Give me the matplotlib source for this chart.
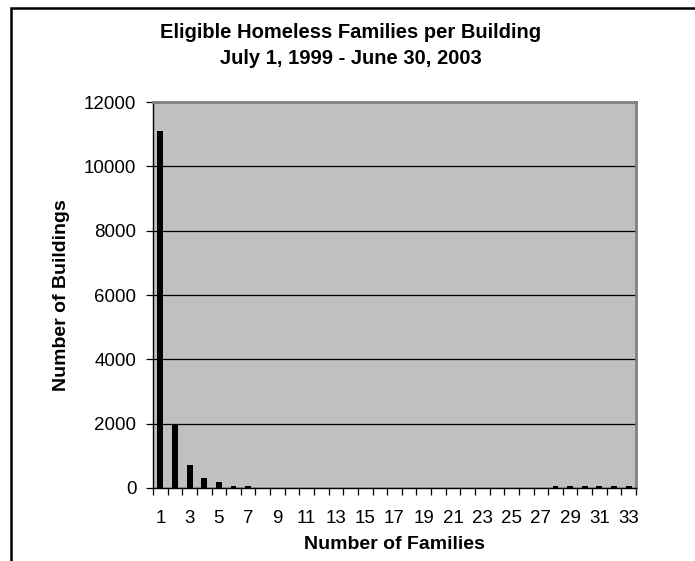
import matplotlib.pyplot as plt
from matplotlib.patches import Rectangle
from matplotlib.ticker import FixedLocator

plt.rcParams['font.family'] = ['Liberation Sans', 'DejaVu Sans']

# buildings by number of eligible families
families = list(range(1, 34))
buildings = [11100, 1970, 710, 300, 180, 70, 60,
             0, 0, 0, 0, 0, 0, 0, 0, 0, 0, 0, 0, 0, 0, 0, 0, 0, 0, 0, 0,
             60, 60, 60, 60, 60, 60]
y_ticks = [0, 2000, 4000, 6000, 8000, 10000, 12000]

W, H = 695, 561
fig = plt.figure(figsize=(W / 100, H / 100), dpi=100)

# chart border (runs off the right and bottom edges)
fig.patches.append(Rectangle((11 / W, -0.2), 1.2, 1.2 - 7.5 / H,
                             transform=fig.transFigure, fill=False,
                             edgecolor='black', linewidth=1.8))

left, right, top, bottom = 153, 636, 102, 488
ax = fig.add_axes([left / W, 1 - bottom / H, (right - left) / W, (bottom - top) / H])
ax.set_facecolor('#c0c0c0')

ax.bar(families, buildings, width=0.4, color='black', zorder=3)

ax.set_xlim(0.5, 33.5)
ax.set_ylim(0, 12000)
ax.set_yticks(y_ticks)
ax.set_yticklabels([str(v) for v in y_ticks], fontsize=13.5)
ax.yaxis.grid(True, color='black', linewidth=0.9, zorder=1)
ax.set_axisbelow(True)

odd = [f for f in families if f % 2 == 1]
ax.set_xticks(odd)
ax.set_xticklabels([str(f) for f in odd], fontsize=13.5)
ax.xaxis.set_minor_locator(FixedLocator([f + 0.5 for f in range(0, 34)]))
ax.tick_params(axis='x', which='major', length=0, pad=16)
ax.tick_params(axis='x', which='minor', length=5, direction='out', width=0.9)
ax.tick_params(axis='y', length=5, direction='out', width=0.9, pad=7)

for side in ('left', 'bottom'):
    ax.spines[side].set_color('black')
    ax.spines[side].set_linewidth(1.0)
for side in ('top', 'right'):
    ax.spines[side].set_color('#808080')
    ax.spines[side].set_linewidth(2.0)

ax.set_xlabel('Number of Families', fontsize=14, fontweight='bold', labelpad=6)
ax.set_ylabel('Number of Buildings', fontsize=14, fontweight='bold', labelpad=10)

fig.text(351 / W, 1 - 33 / H, 'Eligible Homeless Families per Building',
         ha='center', va='center', fontsize=14.5, fontweight='bold')
fig.text(351 / W, 1 - 58 / H, 'July 1, 1999 - June 30, 2003',
         ha='center', va='center', fontsize=14.5, fontweight='bold')

fig.savefig('out.png', dpi=100)
